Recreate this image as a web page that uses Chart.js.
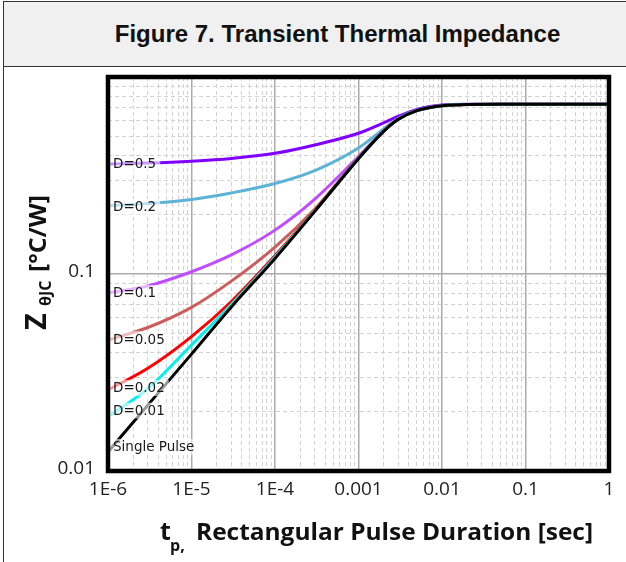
<!DOCTYPE html>
<html>
<head>
<meta charset="utf-8">
<script src="https://cdn.jsdelivr.net/npm/chart.js@4.4.1/dist/chart.umd.min.js"></script>
<style>
html, body { margin: 0; padding: 0; background: #fff; }
#page { position: relative; width: 626px; height: 562px; overflow: hidden; }
#frame { position: absolute; left: 3px; top: 1px; width: 700px; height: 600px; border-left: 1px solid #333; border-top: 1px solid #333; }
#head { position: absolute; left: 4px; top: 2px; width: 667px; height: 64px; background: #f0f0f0; border-bottom: 1px solid #333; z-index: 2; }
#head h1 { margin: 0; width: 667px; text-align: center; font: bold 24px 'Liberation Sans', Arial, sans-serif; line-height: 64px; color: #111; }
#wrap { position: absolute; left: 0; top: 0; width: 626px; height: 562px; z-index: 1; }
</style>
</head>
<body>
<div id="page">
  <div id="frame"></div>
  <div id="head"><h1>Figure 7. Transient Thermal Impedance</h1></div>
  <div id="wrap"><canvas id="grafico" width="626" height="562"></canvas></div>
</div>
<script>
// pulse duration [s]
const durations = [1e-6, 3e-6, 1e-5, 3e-5, 1e-4, 3e-4, 1e-3, 2e-3, 3e-3, 5e-3, 1e-2, 2e-2, 5e-2, 1];

// Z thermal impedance [°C/W]
const zD05   = [0.362, 0.366, 0.374, 0.386, 0.41, 0.452, 0.518, 0.585, 0.632, 0.685, 0.72, 0.727, 0.727, 0.727];
const zD02   = [0.222, 0.228, 0.239, 0.258, 0.288, 0.335, 0.436, 0.545, 0.618, 0.678, 0.717, 0.726, 0.727, 0.727];
const zD01   = [0.0801, 0.087, 0.1027, 0.125, 0.167, 0.24, 0.395, 0.535, 0.612, 0.676, 0.716, 0.726, 0.727, 0.727];
const zD005  = [0.0462, 0.0535, 0.0677, 0.092, 0.137, 0.214, 0.388, 0.532, 0.611, 0.675, 0.715, 0.726, 0.727, 0.727];
const zD002  = [0.0258, 0.0332, 0.0481, 0.0725, 0.124, 0.21, 0.387, 0.531, 0.61, 0.675, 0.715, 0.726, 0.727, 0.727];
const zD001  = [0.0189, 0.0262, 0.0436, 0.070, 0.122, 0.209, 0.386, 0.531, 0.61, 0.675, 0.715, 0.726, 0.727, 0.727];
const zSingle = [0.0125, 0.0216, 0.0392, 0.068, 0.12, 0.208, 0.385, 0.53, 0.61, 0.675, 0.715, 0.726, 0.727, 0.727];

const xTickValues = [1e-6, 1e-5, 1e-4, 1e-3, 1e-2, 0.1, 1];
const xTickLabels = ['1E-6', '1E-5', '1E-4', '0.001', '0.01', '0.1', '1'];
const yTickValues = [0.01, 0.1, 1];
const yTickLabels = ['0.01', '0.1', ''];

// minor grid: 2..9 in every decade
function minors(lo, hi) {
    const out = [];
    for (let e = lo; e < hi; e++)
        for (let k = 2; k <= 9; k++) out.push(k * Math.pow(10, e));
    return out;
}

// first in the list is drawn on top
const series = [
    { nome: 'Single Pulse', z: zSingle, cor: '#000000', dy: -5 },
    { nome: 'D=0.01', z: zD001, cor: '#00f0f0', dy: -6 },
    { nome: 'D=0.02', z: zD002, cor: '#ff0000', dy: -2 },
    { nome: 'D=0.05', z: zD005, cor: '#cd5c5c', dy: -1 },
    { nome: 'D=0.1', z: zD01, cor: '#c04cff', dy: 0 },
    { nome: 'D=0.2', z: zD02, cor: '#5cb3d6', dy: 1 },
    { nome: 'D=0.5', z: zD05, cor: '#8000ff', dy: 0 },
];

const fonte = "'Open Sans', 'DejaVu Sans', sans-serif";

const moldura = {
    id: 'moldura',
    afterDatasetsDraw(chart) {
        const { ctx, chartArea } = chart;
        ctx.save();
        ctx.font = "13.5px 'DejaVu Sans', sans-serif";
        ctx.textBaseline = 'middle';
        chart.data.datasets.forEach((ds, i) => {
            const p = chart.getDatasetMeta(i).data[0];
            const y = p.y + series[i].dy;
            const w = ctx.measureText(ds.label).width;
            ctx.fillStyle = 'rgba(255,255,255,0.6)';
            ctx.fillRect(chartArea.left, y - 8, w + 9, 16);
            ctx.fillStyle = '#1a1a1a';
            ctx.fillText(ds.label, chartArea.left + 5, y + 1);
        });
        ctx.restore();
    },
    afterDraw(chart) {
        const { ctx, chartArea: a } = chart;
        ctx.save();
        ctx.strokeStyle = '#000';
        ctx.lineWidth = 4.5;
        ctx.strokeRect(a.left, a.top, a.right - a.left, a.bottom - a.top);

        ctx.fillStyle = '#111';
        ctx.textBaseline = 'alphabetic';
        // x title
        ctx.font = "bold 25px " + fonte;
        ctx.fillText('t', 160, 540);
        ctx.font = "bold 16px " + fonte;
        ctx.fillText('p,', 170, 551);
        ctx.font = "bold 24px " + fonte;
        const txt = 'Rectangular Pulse Duration [sec]';
        const sx = 397 / ctx.measureText(txt).width;
        ctx.save();
        ctx.translate(196, 540);
        ctx.scale(sx, 1);
        ctx.fillText(txt, 0, 0);
        ctx.restore();

        // y title
        ctx.translate(46, 330);
        ctx.rotate(-Math.PI / 2);
        ctx.font = "bold 29px " + fonte;
        ctx.fillText('Z', 0, 0);
        ctx.font = "bold 16px " + fonte;
        ctx.fillText('θJC', 24, 5);
        ctx.font = "bold 23px " + fonte;
        const yt = '[°C/W]';
        const sy = 77 / ctx.measureText(yt).width;
        ctx.translate(58, 0);
        ctx.scale(sy, 1);
        ctx.fillText(yt, 0, 0);
        ctx.restore();
    }
};

new Chart(document.getElementById('grafico'), {
    type: 'line',
    data: {
        datasets: series.map(s => ({
            label: s.nome,
            data: durations.map((t, i) => ({ x: t, y: s.z[i] })),
            borderColor: s.cor,
            borderWidth: 3,
            pointRadius: 0,
            cubicInterpolationMode: 'monotone',
            fill: false,
        }))
    },
    options: {
        responsive: false,
        animation: false,
        devicePixelRatio: 1,
        layout: { padding: { left: 48, right: 17, top: 77, bottom: 31 } },
        plugins: { legend: { display: false }, tooltip: { enabled: false } },
        scales: {
            x: {
                type: 'logarithmic', position: 'bottom', min: 1e-6, max: 1,
                afterBuildTicks: s => { s.ticks = xTickValues.map(v => ({ value: v, major: true })); },
                afterFit: s => { s.height = 60; },
                ticks: {
                    callback: (v, i) => xTickLabels[i],
                    autoSkip: false, maxRotation: 0, padding: 7,
                    color: '#222', font: { family: fonte, size: 19 }
                },
                grid: { color: '#ababab', lineWidth: 1.5, drawTicks: false },
                border: { display: false }
            },
            x2: {
                type: 'logarithmic', position: 'bottom', min: 1e-6, max: 1,
                afterBuildTicks: s => { s.ticks = minors(-6, 0).map(v => ({ value: v })); },
                afterFit: s => { s.height = 0; },
                ticks: { display: false },
                grid: { color: '#d2d2d2', lineWidth: 1, drawTicks: false },
                border: { display: false, dash: [4, 3] }
            },
            y: {
                type: 'logarithmic', position: 'left', min: 0.01, max: 1,
                afterBuildTicks: s => { s.ticks = yTickValues.map(v => ({ value: v, major: true })); },
                afterFit: s => { s.width = 60; },
                ticks: {
                    callback: (v, i) => yTickLabels[i],
                    autoSkip: false, padding: 13, labelOffset: -2,
                    color: '#222', font: { family: fonte, size: 19 }
                },
                grid: { color: '#ababab', lineWidth: 1.5, drawTicks: false },
                border: { display: false }
            },
            y2: {
                type: 'logarithmic', position: 'left', min: 0.01, max: 1,
                afterBuildTicks: s => { s.ticks = minors(-2, 0).map(v => ({ value: v })); },
                afterFit: s => { s.width = 0; },
                ticks: { display: false },
                grid: { color: '#d2d2d2', lineWidth: 1, drawTicks: false },
                border: { display: false, dash: [4, 3] }
            }
        }
    },
    plugins: [moldura]
});
</script>
</body>
</html>
